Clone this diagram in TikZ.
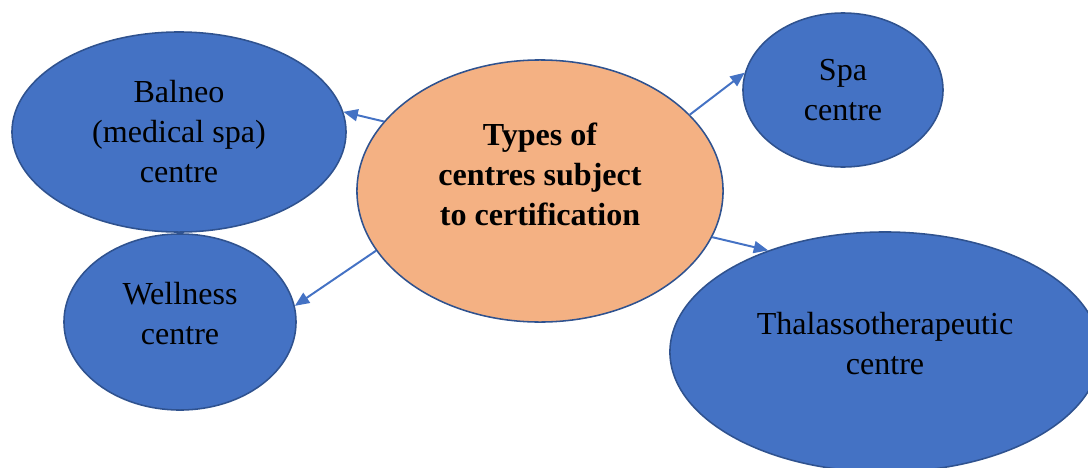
\documentclass[tikz,border=0pt]{standalone}
\usepackage{fontspec}
\setmainfont{Liberation Serif}
\usepackage{xcolor}
\definecolor{kindBlue}{HTML}{4472C4}
\definecolor{kindEdge}{HTML}{2F528F}
\definecolor{hubOrange}{HTML}{F4B183}
\usetikzlibrary{arrows.meta, shapes.geometric}

\begin{document}
\begin{tikzpicture}[
  x=0.025cm, y=-0.025cm,
  bubble/.style={ellipse, draw=kindEdge, line width=1.1pt, inner sep=0pt, fill=kindBlue},
  ltext/.style={align=center, inner sep=0pt, font=\fontsize{22.8}{28.45}\selectfont},
  link/.style={-{Triangle[length=3.6mm, width=3mm]}, kindBlue, line width=1.4pt}
]
  \useasboundingbox (0,0) rectangle (1088,468);

  \node[bubble, fill=hubOrange, minimum width=9.15cm, minimum height=6.55cm] (hub) at (540,191) {};
  \node[bubble, minimum width=8.35cm, minimum height=5cm] (balneo) at (179,132) {};
  \node[bubble, minimum width=5.8cm, minimum height=4.4cm] (wellness) at (180,322) {};
  \node[bubble, minimum width=5cm, minimum height=3.85cm] (spa) at (843,90) {};
  \node[bubble, minimum width=10.75cm, minimum height=6cm] (thalasso) at (885,352) {};

  % texts sit a little above the middle of some ellipses
  \node[ltext, font=\fontsize{22.8}{28.45}\selectfont\bfseries, yshift=0.41cm] (hubText) at (hub) {Types of\\centres subject\\to certification};
  \node[ltext] (balneoText) at (balneo) {Balneo\\(medical spa)\\centre};
  \node[ltext, yshift=0.22cm] (wellnessText) at (wellness) {Wellness\\centre};
  \node[ltext] (spaText) at (spa) {Spa\\centre};
  \node[ltext, yshift=0.2cm] (thalassoText) at (thalasso) {Thalassotherapeutic\\centre};

  \foreach \a/\b in {156/balneo.7, 200/wellness.8, 27/spa.170, 345/thalasso.139}
    \draw[link] (hub.\a) -- (\b);
\end{tikzpicture}
\end{document}
